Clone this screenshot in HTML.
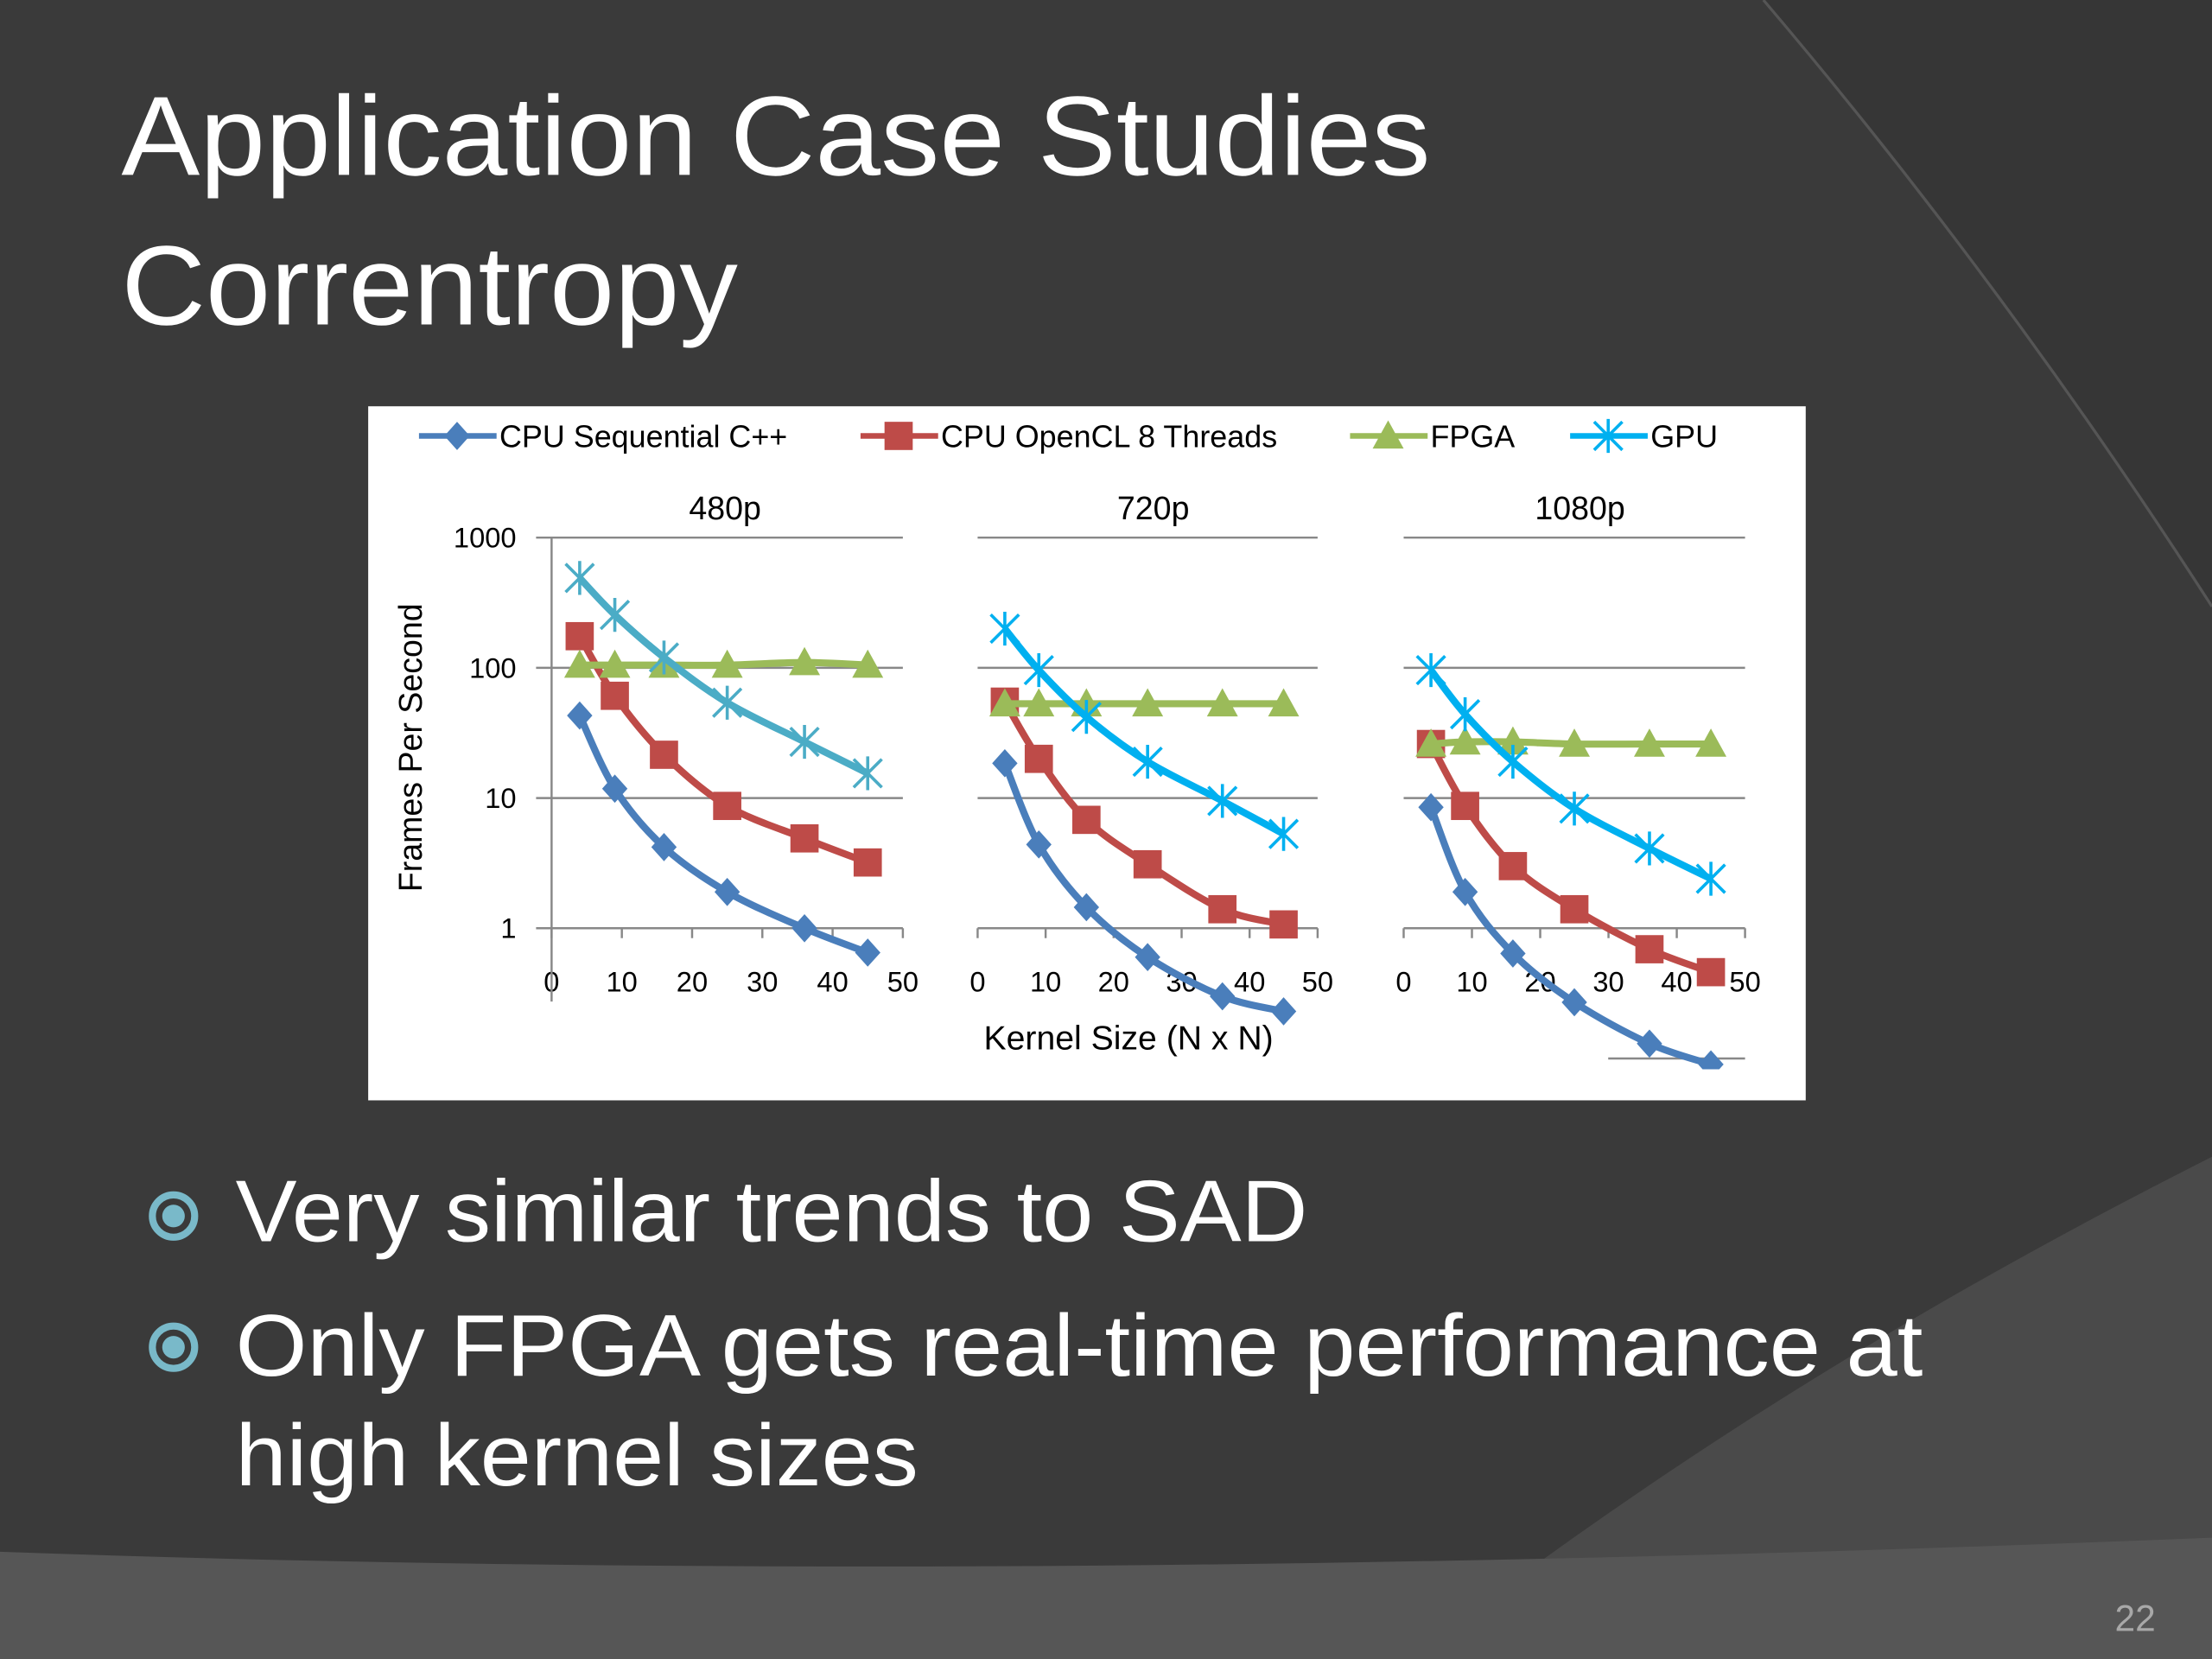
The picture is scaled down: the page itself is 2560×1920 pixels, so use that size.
<!DOCTYPE html>
<html><head><meta charset="utf-8"><style>
html,body{margin:0;padding:0;background:#3a3a3a;}
svg{display:block;}
text{font-family:"Liberation Sans",sans-serif;}
</style></head><body>
<svg id="s" width="2560" height="1920" viewBox="0 0 1568 1176" preserveAspectRatio="none" xmlns="http://www.w3.org/2000/svg">
<rect x="0" y="0" width="1568" height="1176" fill="#3a3a3a"/>
<path d="M1250,0 Q1420,200 1568,430 L1568,0 Z" fill="#363636"/>
<path d="M1250,0 Q1420,200 1568,430" fill="none" stroke="#555" stroke-width="2"/>
<path d="M1000,1176 Q1250,980 1568,820 L1568,1176 Z" fill="#4a4a4a"/>
<path d="M0,1100 Q700,1125 1568,1090 L1568,1176 L0,1176 Z" fill="#565656"/>
<text x="86" y="124" font-size="80" fill="#ffffff" textLength="928" lengthAdjust="spacingAndGlyphs">Application Case Studies</text>
<text x="86" y="230" font-size="80" fill="#ffffff" textLength="437" lengthAdjust="spacingAndGlyphs">Correntropy</text>
<rect x="261" y="288" width="1019" height="492" fill="#ffffff"/>
<g id="chart"></g>
<g>
<circle cx="123" cy="862" r="15" fill="none" stroke="#79b9c9" stroke-width="5"/>
<circle cx="123" cy="862" r="8" fill="#79b9c9"/>
<text x="167" y="880" font-size="62" fill="#ffffff" textLength="760" lengthAdjust="spacingAndGlyphs">Very similar trends to SAD</text>
</g>
<g>
<circle cx="123" cy="955" r="15" fill="none" stroke="#79b9c9" stroke-width="5"/>
<circle cx="123" cy="955" r="8" fill="#79b9c9"/>
<text x="167" y="975" font-size="62" fill="#ffffff" textLength="1196" lengthAdjust="spacingAndGlyphs">Only FPGA gets real-time performance at</text>
<text x="167" y="1053" font-size="62" fill="#ffffff" textLength="484" lengthAdjust="spacingAndGlyphs">high kernel sizes</text>
</g>
<text x="1528" y="1156" font-size="26" fill="#a8a8a8" text-anchor="end">22</text>
</svg>
<script>
const kernelSizes = [4, 9, 16, 25, 36, 45];
const panelTitles = ["480p", "720p", "1080p"];
const seriesNames = ["CPU Sequential C++", "CPU OpenCL 8 Threads", "FPGA", "GPU"];
const yTickValues = [1, 10, 100, 1000];
const yTickLabels = ["1", "10", "100", "1000"];
const xTickValues = [0, 10, 20, 30, 40, 50];
const cpuSeq480 = [43, 11.8, 4.2, 1.9, 1.0, 0.65];
const cpuOcl480 = [175, 61, 21.5, 8.7, 4.9, 3.2];
const fpga480 = [105, 105, 105, 105, 110, 105];
const gpu480 = [490, 255, 120, 54, 27, 15.5];
const cpuSeq720 = [18.5, 4.4, 1.45, 0.6, 0.3, 0.23];
const cpuOcl720 = [55, 20, 6.8, 3.1, 1.4, 1.07];
const fpga720 = [53, 53, 53, 53, 53, 53];
const gpu720 = [200, 96, 42, 19, 9.5, 5.3];
const cpuSeq1080 = [8.5, 1.9, 0.64, 0.27, 0.13, 0.09];
const cpuOcl1080 = [26, 8.7, 3.0, 1.4, 0.69, 0.46];
const fpga1080 = [26, 27, 27, 26, 26, 26];
const gpu1080 = [96, 44, 19, 8.3, 4.1, 2.4];

const NS = "http://www.w3.org/2000/svg";
const chart = document.getElementById("chart");
function mk(tag, attrs, parent) {
  const e = document.createElementNS(NS, tag);
  for (const k in attrs) e.setAttribute(k, attrs[k]);
  (parent || chart).appendChild(e);
  return e;
}
const panels = [
  {x0: 391, x1: 640, gl: 380, gpuColor: "#4bacc6", data: [cpuSeq480, cpuOcl480, fpga480, gpu480]},
  {x0: 693, x1: 934, gl: 693, gpuColor: "#00b0f0", data: [cpuSeq720, cpuOcl720, fpga720, gpu720]},
  {x0: 995, x1: 1237, gl: 995, gpuColor: "#00b0f0", data: [cpuSeq1080, cpuOcl1080, fpga1080, gpu1080]}
];
const Y1 = 658, DEC = 92.3;
function yScale(v) { return Y1 - DEC * Math.log10(v); }
const colors = ["#4a7ebb", "#be4b48", "#9bbb59"];

function smoothPath(pts) {
  let d = "M" + pts[0][0] + "," + pts[0][1];
  for (let i = 0; i < pts.length - 1; i++) {
    const p0 = pts[Math.max(0, i - 1)], p1 = pts[i], p2 = pts[i + 1], p3 = pts[Math.min(pts.length - 1, i + 2)];
    const c1x = p1[0] + (p2[0] - p0[0]) / 6, c1y = p1[1] + (p2[1] - p0[1]) / 6;
    const c2x = p2[0] - (p3[0] - p1[0]) / 6, c2y = p2[1] - (p3[1] - p1[1]) / 6;
    d += " C" + c1x + "," + c1y + " " + c2x + "," + c2y + " " + p2[0] + "," + p2[1];
  }
  return d;
}
function marker(type, x, y, color, g) {
  let m;
  if (type === 0) m = mk("polygon", {points: `${x},${y-10} ${x+9},${y} ${x},${y+10} ${x-9},${y}`, fill: color}, g);
  else if (type === 1) m = mk("rect", {x: x-10, y: y-10, width: 20, height: 20, fill: color}, g);
  else if (type === 2) m = mk("polygon", {points: `${x},${y-11} ${x+11},${y+9} ${x-11},${y+9}`, fill: color}, g);
  else {
    m = mk("path", {d: `M${x-10},${y-10}L${x+10},${y+10}M${x-10},${y+10}L${x+10},${y-10}M${x},${y-12}L${x},${y+12}`, stroke: color, "stroke-width": 2.2, fill: "none"}, g);
  }
  return m;
}
const clip = mk("clipPath", {id: "clipc"});
mk("rect", {x: 261, y: 288, width: 1019, height: 470}, clip);

panels.forEach((p, pi) => {
  const xs = v => p.x0 + (v / 50) * (p.x1 - p.x0);
  const g = mk("g", {});
  
  
  const t = mk("text", {x: (p.gl + p.x1) / 2 + 4, y: 368, "font-size": 23, "text-anchor": "middle", fill: "#000"}, g);
  t.textContent = panelTitles[pi];
  
  
  yTickValues.forEach((v, i) => {
    const gl = mk("line", {x1: p.gl, x2: p.x1, y1: yScale(v), y2: yScale(v), stroke: "#888", "stroke-width": 1.5}, g);
    
    
    if (pi === 0) {
      const tl = mk("text", {x: 366, y: yScale(v) + 7, "font-size": 20, "text-anchor": "end", fill: "#000"}, g);
      tl.textContent = yTickLabels[i];
      
      
    }
  });
  xTickValues.forEach(v => {
    const tk = mk("line", {x1: xs(v), x2: xs(v), y1: Y1, y2: Y1 + 7, stroke: "#888", "stroke-width": 1.5}, g);
    
    
    const tl = mk("text", {x: xs(v), y: 703, "font-size": 20, "text-anchor": "middle", fill: "#000"}, g);
    tl.textContent = String(v);
    
    
  });
  if (pi === 0) {
    const ax = mk("line", {x1: p.x0, x2: p.x0, y1: yScale(1000), y2: 710, stroke: "#888", "stroke-width": 1.5}, g);
    
    
  }
  if (pi === 2) {
    const gl = mk("line", {x1: 1140, x2: p.x1, y1: yScale(0.1), y2: yScale(0.1), stroke: "#888", "stroke-width": 1.5}, g);
    
    
  }
  p.data.forEach((vals, si) => {
    const color = si === 3 ? p.gpuColor : colors[si];
    const sg = mk("g", {"clip-path": "url(#clipc)"}, g);
    
    
    const pts = vals.map((v, i) => [xs(kernelSizes[i]), yScale(v)]);
    const path = mk("path", {d: smoothPath(pts), fill: "none", stroke: color, "stroke-width": 5, "stroke-linejoin": "round"}, sg);
    
    
    pts.forEach(pt => {
      const m = marker(si, pt[0], pt[1], color, sg);
      
      
    });
  });
});

// legend
const legendX = [297, 610, 957, 1113];
const leg = mk("g", {});


seriesNames.forEach((n, i) => {
  const color = i === 3 ? "#00b0f0" : colors[i];
  const eg = mk("g", {}, leg);
  
  
  mk("line", {x1: legendX[i], x2: legendX[i] + 55, y1: 309, y2: 309, stroke: color, "stroke-width": 4}, eg);
  marker(i, legendX[i] + 27, 309, color, eg);
  const t = mk("text", {x: legendX[i] + 57, y: 317, "font-size": 22, fill: "#000"}, eg);
  t.textContent = n;
});
const yl = mk("text", {x: 0, y: 0, "font-size": 23, "text-anchor": "middle", fill: "#000", transform: "translate(299,530) rotate(-90)"});
yl.textContent = "Frames Per Second";


const xl = mk("text", {x: 800, y: 744, "font-size": 24, "text-anchor": "middle", fill: "#000"});
xl.textContent = "Kernel Size (N x N)";


</script>
</body></html>
